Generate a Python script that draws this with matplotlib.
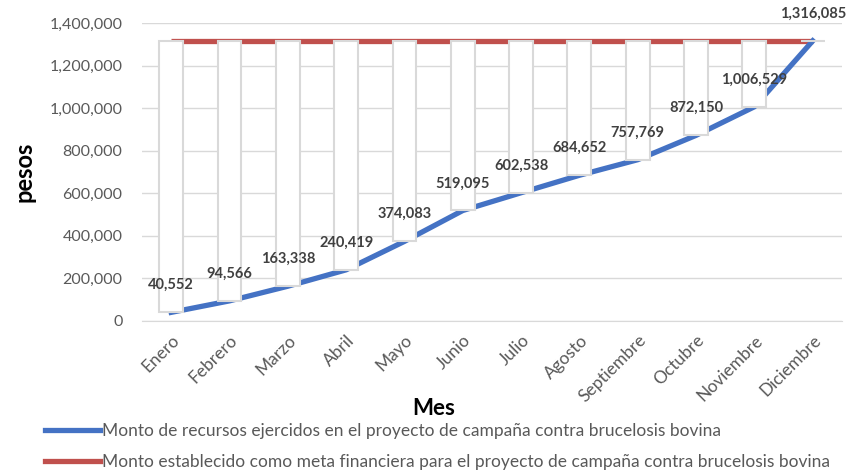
"""Monto ejercido vs meta financiera, campaña contra brucelosis bovina."""

import matplotlib

matplotlib.use("Agg")

import matplotlib.pyplot as plt
from matplotlib.lines import Line2D

MESES = ["Enero", "Febrero", "Marzo", "Abril", "Mayo", "Junio", "Julio",
         "Agosto", "Septiembre", "Octubre", "Noviembre", "Diciembre"]
EJERCIDO = [40552, 94566, 163338, 240419, 374083, 519095, 602538,
            684652, 757769, 872150, 1006529, 1316085]
META = [1316085] * 12
YTICKS = [0, 200000, 400000, 600000, 800000, 1000000, 1200000, 1400000]

LABEL_EJERCIDO = "Monto de recursos ejercidos en el proyecto de campaña contra brucelosis bovina"
LABEL_META = "Monto establecido como meta financiera para el proyecto de campaña contra brucelosis bovina"

BLUE = "#4472C4"
RED = "#C0504D"
GRID = "#D9D9D9"
TEXT = "#595959"

plt.rcParams["font.family"] = ["Lato", "DejaVu Sans"]

fig = plt.figure(figsize=(8.53, 4.74), dpi=100)
ax = fig.add_axes([0.1665, 0.3228, 0.8205, 0.6287])

x = list(range(len(MESES)))

ax.plot(x, META, color=RED, linewidth=3.8, solid_capstyle="butt", zorder=2)
ax.plot(x, EJERCIDO, color=BLUE, linewidth=3.8, solid_joinstyle="round", zorder=2)

# up/down bars between the two series
heights = [m - e for m, e in zip(META, EJERCIDO)]
ax.bar(x, heights, bottom=EJERCIDO, width=0.41, color="white",
       edgecolor=GRID, linewidth=1.5, zorder=3)

for xi, v in zip(x, EJERCIDO):
    ax.annotate(f"{v:,}", (xi, v), xytext=(0, 19.5), textcoords="offset points",
                ha="center", va="center", fontsize=10.5, fontweight="bold",
                color="#404040", zorder=4)

ax.set_xlim(-0.5, len(MESES) - 0.5)
ax.set_ylim(0, 1400000)
ax.set_yticks(YTICKS)
ax.set_yticklabels([f"{t:,}" for t in YTICKS])
ax.set_xticks(x)
ax.set_xticklabels(MESES, rotation=45, ha="right", rotation_mode="anchor")
ax.tick_params(axis="both", length=0, colors=TEXT)
ax.tick_params(axis="y", pad=14, labelsize=11.5)
ax.tick_params(axis="x", pad=8, labelsize=12.5)
ax.grid(axis="y", color=GRID, linewidth=1)
ax.set_axisbelow(True)
for side in ["top", "right", "left"]:
    ax.spines[side].set_visible(False)
ax.spines["bottom"].set_color(GRID)

ax.set_ylabel("pesos", fontsize=17, fontweight="bold", labelpad=10)
fig.text(0.508, 0.138, "Mes", ha="center", va="center", fontsize=16, fontweight="bold")

handles = [Line2D([], [], color=BLUE, linewidth=3.8),
           Line2D([], [], color=RED, linewidth=3.8)]
fig.legend(handles, [LABEL_EJERCIDO, LABEL_META], loc="upper left",
           bbox_to_anchor=(0.053, 0.108), frameon=False, fontsize=12.5,
           handlelength=3.15, handletextpad=0.12, labelspacing=0.88,
           borderaxespad=0, borderpad=0, labelcolor=TEXT)

fig.savefig("out.png", dpi=100)
